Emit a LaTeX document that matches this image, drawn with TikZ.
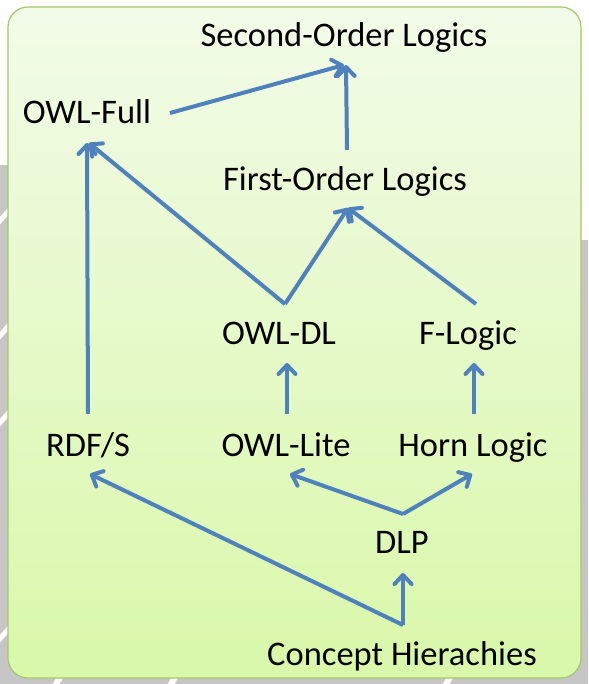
\documentclass[tikz,border=0pt]{standalone}
\usepackage{fontspec}
\setmainfont{Carlito}
\usepackage{tikz}
\usetikzlibrary{arrows.meta}
\definecolor{arrowblue}{HTML}{4F81BD}
\definecolor{boxtop}{HTML}{F2FBE8}
\definecolor{boxbottom}{HTML}{D9F8A9}
\definecolor{boxline}{HTML}{A3C86B}
\definecolor{slidegray}{HTML}{C6C6C6}
\tikzset{
  logic/.style={anchor=base,inner sep=0pt,font=\fontsize{34.5}{40}\selectfont},
  isa/.style={draw=arrowblue,line width=4pt,-{Straight Barb[length=9pt,width=17pt,round]}}
}

\begin{document}
\begin{tikzpicture}[x=1pt,y=-1pt]
\useasboundingbox (0,0) rectangle (588,684);

% grey shapes of the slide behind
\fill[slidegray] (0,165) rectangle (20,684);
\fill[slidegray] (0,668) rectangle (588,684);
\fill[slidegray] (560,240) rectangle (588,684);
\foreach \y in {215,330,417,633}
  \draw[white,line width=5pt] (-2,\y+8) -- (12,\y-8);
\foreach \x in {55,170,445}
  \draw[white,line width=6pt] (\x,686) -- (\x+8,672);

% green box
\shade[top color=boxtop,bottom color=boxbottom,draw=boxline,line width=1.2pt,rounded corners=20pt] (8,7) rectangle (581,678);

% logics
\node[logic] (second) at (344,47) {Second-Order Logics};
\node[logic] (owlfull) at (87,124) {OWL-Full};
\node[logic] (first) at (345,191) {First-Order Logics};
\node[logic] (owldl) at (279,344) {OWL-DL};
\node[logic] (flogic) at (468,344) {F-Logic};
\node[logic] (rdfs) at (88,456) {RDF/S};
\node[logic] (owllite) at (286,456) {OWL-Lite};
\node[logic] (horn) at (473,456) {Horn Logic};
\node[logic] (dlp) at (402,553) {DLP};
\node[logic] (concept) at (402,665) {Concept Hierachies};

% top part
\draw[isa] ([xshift=83pt,yshift=11pt]owlfull.base) -- ([yshift=-18pt]second.base);
\draw[isa] ([xshift=2pt,yshift=41pt]first.base) -- ([xshift=2pt,yshift=-18pt]second.base);
\draw[isa] ([xshift=6pt,yshift=40pt]owldl.base) -- ([xshift=2pt,yshift=-19pt]owlfull.base);
\draw[isa] ([yshift=42pt]rdfs.base) -- ([yshift=-19pt]owlfull.base);
\draw[isa] ([xshift=6pt,yshift=40pt]owldl.base) -- ([xshift=3pt,yshift=-17pt]first.base);
\draw[isa] ([xshift=8pt,yshift=40pt]flogic.base) -- ([xshift=3pt,yshift=-17pt]first.base);

% lower part
\draw[isa] ([xshift=1pt,yshift=42pt]owllite.base) -- ([xshift=8pt,yshift=-19pt]owldl.base);
\draw[isa] ([xshift=1pt,yshift=42pt]horn.base) -- ([xshift=6pt,yshift=-19pt]flogic.base);
\draw[isa] ([xshift=1pt,yshift=39pt]dlp.base) -- ([xshift=4pt,yshift=-18pt]owllite.base);
\draw[isa] ([xshift=1pt,yshift=39pt]dlp.base) -- ([xshift=-1pt,yshift=-18pt]horn.base);
\draw[isa] ([xshift=1pt,yshift=40pt]concept.base) -- ([xshift=2pt,yshift=-18pt]rdfs.base);
\draw[isa] ([xshift=1pt,yshift=40pt]concept.base) -- ([xshift=1pt,yshift=-20pt]dlp.base);
\end{tikzpicture}
\end{document}
